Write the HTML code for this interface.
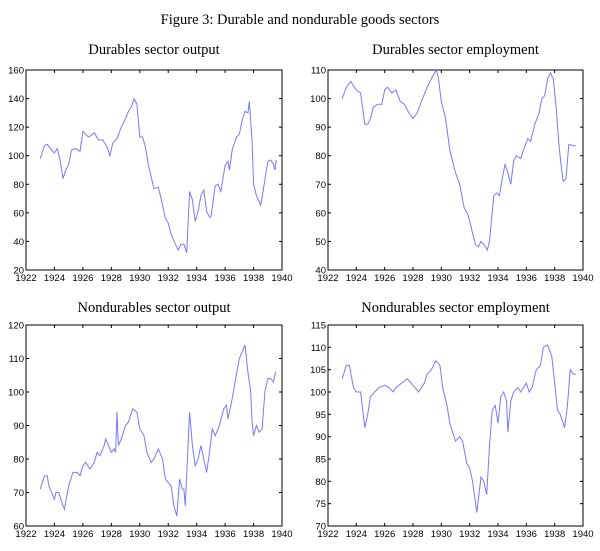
<!DOCTYPE html>
<html><head><meta charset="utf-8"><style>
body{margin:0;background:#fff;width:600px;height:546px;overflow:hidden}
svg text{font-family:"Liberation Sans",sans-serif}
.t{font-family:"Liberation Serif",serif;font-size:14.5px;fill:#000}
</style></head><body>
<svg id="c" width="600" height="546">
<text class="t" x="300" y="24" text-anchor="middle">Figure 3: Durable and nondurable goods sectors</text>
</svg>
<script>
const dYears=[1923.0,1923.3,1923.5,1923.8,1924.0,1924.2,1924.4,1924.6,1924.8,1925.0,1925.2,1925.5,1925.8,1926.0,1926.2,1926.4,1926.8,1927.1,1927.4,1927.7,1927.9,1928.1,1928.4,1928.7,1929.0,1929.2,1929.4,1929.6,1929.8,1930.0,1930.2,1930.4,1930.6,1930.8,1931.0,1931.3,1931.5,1931.8,1932.0,1932.2,1932.5,1932.7,1932.9,1933.1,1933.3,1933.5,1933.7,1933.9,1934.1,1934.3,1934.5,1934.7,1934.9,1935.0,1935.3,1935.5,1935.7,1936.0,1936.2,1936.3,1936.5,1936.8,1937.0,1937.2,1937.4,1937.6,1937.7,1937.9,1938.0,1938.2,1938.4,1938.5,1938.7,1939.0,1939.2,1939.4,1939.5,1939.6];
const dOutput=[98,107,108,104,102,105,97,84,90,94,104,105,103,117,115,113,116,111,111,106,100,109,112,120,126,131,134,140,136,113,113,106,94,85,77,78,70,56,53,45,38,34,38,38,32,75,69,54,61,72,76,61,57,57,79,80,75,93,96,90,104,113,115,125,131,130,138,110,80,72,68,65,77,96,97,94,90,97];
const eYears=[1923.0,1923.3,1923.6,1924.0,1924.3,1924.6,1924.8,1925.0,1925.2,1925.5,1925.8,1926.0,1926.2,1926.5,1926.8,1927.1,1927.4,1927.7,1928.0,1928.3,1928.6,1929.0,1929.3,1929.65,1929.8,1930.0,1930.3,1930.6,1931.0,1931.3,1931.6,1931.9,1932.1,1932.4,1932.6,1932.8,1933.0,1933.25,1933.4,1933.7,1933.9,1934.1,1934.3,1934.5,1934.7,1934.9,1935.1,1935.3,1935.6,1935.8,1936.1,1936.3,1936.6,1936.9,1937.1,1937.3,1937.5,1937.7,1937.9,1938.1,1938.3,1938.45,1938.6,1938.8,1939.0,1939.3,1939.5];
const dEmployment=[100,104,106,103,102,91,91,93,97,98,98,103,104,102,103,99,98,95,93,95,99,104,107,110,107,99,93,82,74,70,62,59,55,49,48,50,49,47,50,66,67,66,72,77,74,70,78,80,79,82,86,85,91,95,100,101,107,109,107,97,84,77,71,72,84,83.5,83.5];
const nYears=[1923.0,1923.3,1923.5,1923.6,1923.9,1924.0,1924.1,1924.3,1924.6,1924.7,1925.0,1925.3,1925.6,1925.8,1926.0,1926.2,1926.5,1926.8,1927.0,1927.2,1927.5,1927.6,1927.8,1928.0,1928.2,1928.3,1928.4,1928.5,1928.7,1929.0,1929.2,1929.5,1929.8,1930.0,1930.3,1930.5,1930.8,1931.0,1931.3,1931.6,1931.8,1932.0,1932.2,1932.4,1932.6,1932.8,1933.0,1933.1,1933.2,1933.5,1933.7,1933.9,1934.1,1934.3,1934.5,1934.7,1934.9,1935.1,1935.3,1935.6,1935.9,1936.1,1936.2,1936.5,1936.7,1937.0,1937.2,1937.4,1937.6,1937.8,1937.9,1938.0,1938.2,1938.4,1938.6,1938.8,1939.0,1939.2,1939.4,1939.55];
const nOutput=[71,75,75,72,69,68,70,70,66,65,72,76,76,75,78,79,77,79,82,81,84,86,84,82,83,82,94,84,86,90,91,95,94,89,87,82,79,80,83,80,74,73,72,66,63,74,71,71,66,94,84,78,80,84,80,76,82,89,87,90,95,96,92,98,103,110,112,114,106,100,91,87,90,88,89,100,104,104,103,106];
const mYears=[1923.0,1923.3,1923.5,1923.8,1924.0,1924.3,1924.6,1924.8,1925.0,1925.3,1925.6,1926.0,1926.3,1926.6,1926.8,1927.2,1927.6,1928.0,1928.4,1928.8,1929.0,1929.3,1929.6,1929.9,1930.1,1930.4,1930.6,1931.0,1931.3,1931.5,1931.8,1932.0,1932.2,1932.5,1932.8,1933.0,1933.2,1933.4,1933.6,1933.8,1934.0,1934.2,1934.4,1934.6,1934.7,1934.9,1935.1,1935.4,1935.6,1936.0,1936.2,1936.4,1936.7,1937.0,1937.2,1937.5,1937.8,1938.0,1938.2,1938.4,1938.6,1938.7,1938.9,1939.1,1939.3,1939.5];
const nEmployment=[103,106,106,101,100,100,92,95,99,100,101,101.5,101,100,101,102,103,101.5,100,102,104,105,107,106,101,97,93,89,90,89,84,83,80,73,81,80,77,88,96,97,93,99,100,98,91,98,100,101,100,102,100,101,105,106,110,110.5,108,102,96,95,93,92,97,105,104,104];
const xTicks=[1922,1924,1926,1928,1930,1932,1934,1936,1938,1940];
const panels=[
 {name:'durables-output',title:'Durables sector output',x0:26,x1:282,y0:70,y1:270,ymin:20,ymax:160,yt:[20,40,60,80,100,120,140,160],xs:dYears,ys:dOutput,ty:54},
 {name:'durables-employment',title:'Durables sector employment',x0:328,x1:583,y0:70,y1:270,ymin:40,ymax:110,yt:[40,50,60,70,80,90,100,110],xs:eYears,ys:dEmployment,ty:54},
 {name:'nondurables-output',title:'Nondurables sector output',x0:26,x1:282,y0:325,y1:526,ymin:60,ymax:120,yt:[60,70,80,90,100,110,120],xs:nYears,ys:nOutput,ty:312},
 {name:'nondurables-employment',title:'Nondurables sector employment',x0:328,x1:583,y0:325,y1:526,ymin:70,ymax:115,yt:[70,75,80,85,90,95,100,105,110,115],xs:mYears,ys:nEmployment,ty:312}
];
const svg=document.getElementById('c');const NS='http://www.w3.org/2000/svg';
function mk(tag,at,parent){const e=document.createElementNS(NS,tag);for(const k in at)e.setAttribute(k,at[k]);(parent||svg).appendChild(e);return e;}
panels.forEach(p=>{
 const g=mk('g',{});
 
 
 const X=v=>p.x0+(v-1922)/18*(p.x1-p.x0);
 const Y=v=>p.y1-(v-p.ymin)/(p.ymax-p.ymin)*(p.y1-p.y0);
 const t=mk('text',{class:'t',x:(p.x0+p.x1)/2,y:p.ty,'text-anchor':'middle'},g);t.textContent=p.title;
 
 
 const fr=mk('rect',{x:p.x0,y:p.y0,width:p.x1-p.x0,height:p.y1-p.y0,fill:'none',stroke:'#000','stroke-width':1},g);
 
 
 xTicks.forEach(v=>{const x=X(v);
  mk('line',{x1:x,x2:x,y1:p.y1,y2:p.y1-3,stroke:'#000'},g);mk('line',{x1:x,x2:x,y1:p.y0,y2:p.y0+3,stroke:'#000'},g);
  const l=mk('text',{x:x,y:p.y1+11,'text-anchor':'middle','font-size':'9.5'},g);l.textContent=v;
  
  });
 p.yt.forEach(v=>{const y=Y(v);
  mk('line',{x1:p.x0,x2:p.x0+3,y1:y,y2:y,stroke:'#000'},g);mk('line',{x1:p.x1,x2:p.x1-3,y1:y,y2:y,stroke:'#000'},g);
  const l=mk('text',{x:p.x0-2,y:y+3.5,'text-anchor':'end','font-size':'9.5'},g);l.textContent=v;
  
  });
 const d=p.xs.map((v,i)=>(i?'L':'M')+X(v).toFixed(1)+' '+Y(p.ys[i]).toFixed(1)).join(' ');
 const path=mk('path',{d:d,fill:'none',stroke:'#7878ff','stroke-width':1},g);
 
 
});
</script>
</body></html>
